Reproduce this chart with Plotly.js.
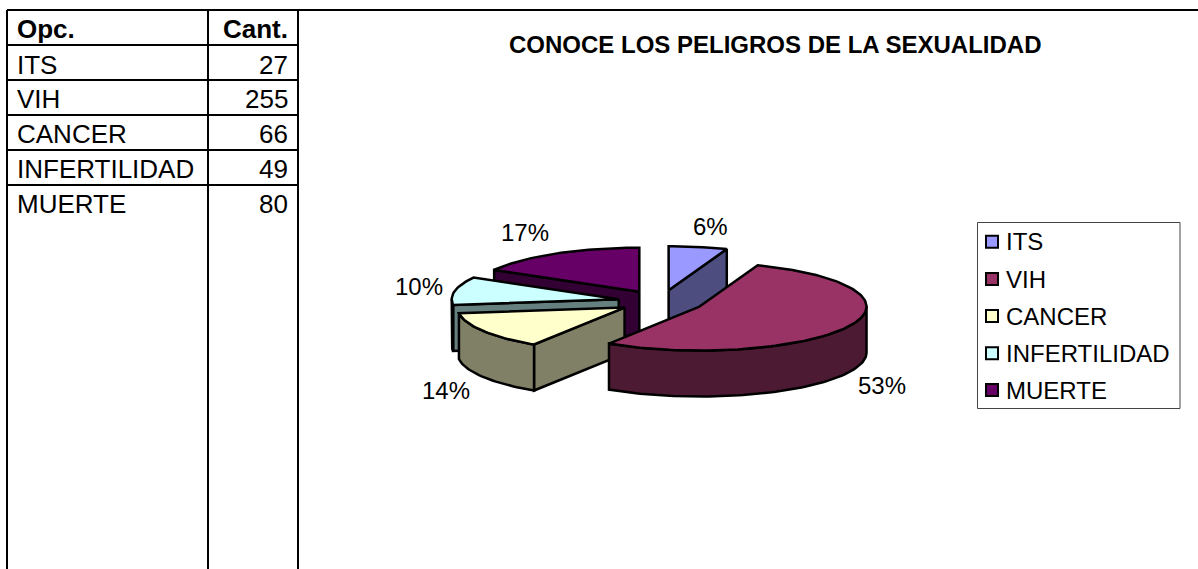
<!DOCTYPE html>
<html><head><meta charset="utf-8">
<script src="https://cdn.plot.ly/plotly-3.0.1.min.js"></script>
<style>html,body{margin:0;padding:0;background:#fff}#c{width:1198px;height:569px}</style>
</head><body><div id="c"></div>
<script>
// Data
const categories = ["ITS","VIH","CANCER","INFERTILIDAD","MUERTE"];
const values = [27,255,66,49,80];
const headerOption = "Opc.";
const headerCount = "Cant.";
const chartTitle = "CONOCE LOS PELIGROS DE LA SEXUALIDAD";

// Styles
const topColors  = ["#9999FF","#993366","#FFFFCC","#CCFFFF","#660066"];
const wallColors = ["#4D4D80","#4D1A33","#808066","#668080","#330033"];
const drawOrder  = [0,4,3,2,1];
const labelX = [710,882,446,419,525];
const labelY = [226,385,390,286,232];

// Pie geometry (pixels on the page-sized axes)
const CX = 661, CY = 301.5, RX = 167, RY = 44, DEPTH = 46, EXPLODE = 0.258;
const rad = d => d*Math.PI/180;
const total = values.reduce((a,b)=>a+b,0);
let acc = 0;
const slices = values.map(v => {
  const a0 = acc/total*360; acc += v; const a1 = acc/total*360;
  const m = (a0+a1)/2;
  return {a0, a1, ax: CX+EXPLODE*RX*Math.sin(rad(m)), ay: CY-EXPLODE*RY*Math.cos(rad(m))};
});
const rim = (s,a,dz=0) => [s.ax+RX*Math.sin(rad(a)), s.ay-RY*Math.cos(rad(a))+dz];
function arc(s,a,b,dz=0){
  const n = Math.max(2,Math.ceil(Math.abs(b-a)/1.5)), out=[];
  for(let i=0;i<=n;i++) out.push(rim(s,a+(b-a)*i/n,dz));
  return out;
}
function poly(pts,fill,name){
  const c = pts.concat([pts[0]]);
  return {type:"scatter",mode:"lines",x:c.map(p=>p[0]),y:c.map(p=>p[1]),fill:"toself",fillcolor:fill,
    line:{color:"#000",width:2.5,shape:"linear"},name,hoverinfo:"name",showlegend:false};
}
function cutFace(s,a,color,name){
  const r=rim(s,a), r2=rim(s,a,DEPTH);
  return poly([[s.ax,s.ay],r,r2,[s.ax,s.ay+DEPTH]],color,name);
}
const traces = [];
drawOrder.forEach(i=>{
  const s = slices[i], name = categories[i];
  if(Math.sin(rad(s.a1))>0) traces.push(cutFace(s,s.a1,wallColors[i],name));
  if(Math.sin(rad(s.a0))<-1e-9) traces.push(cutFace(s,s.a0,wallColors[i],name));
  const from=Math.max(s.a0,90), to=Math.min(s.a1,270);
  if(to>from) traces.push(poly(arc(s,from,to).concat(arc(s,to,from,DEPTH)),wallColors[i],name));
  traces.push(poly([[s.ax,s.ay]].concat(arc(s,s.a0,s.a1)),topColors[i],name));
});

// Legend swatches
const legendY = [241.7,279,316,353.3,390];
traces.push({type:"scatter",mode:"markers",x:categories.map(()=>992),y:legendY,
  marker:{symbol:"square",size:12,color:topColors,line:{color:"#000",width:2}},hoverinfo:"skip",showlegend:false});

const FONT = "Liberation Sans, Arial, sans-serif";
const ann = [];
const txt=(x,y,text,size,anchor,bold)=>ann.push({xref:"x",yref:"y",x,y,text:bold?"<b>"+text+"</b>":text,showarrow:false,
  xanchor:anchor,yanchor:"middle",font:{family:FONT,size,color:"#000"},borderpad:0,borderwidth:0});

// Table
const rowY = [65,99,134,169,204];
txt(17,29,headerOption,26,"left",true);
txt(288,29,headerCount,26,"right",true);
categories.forEach((c,i)=>{ txt(17,rowY[i],c,26,"left",false); txt(288,rowY[i],String(values[i]),26,"right",false); });

// Title, percent labels, legend labels
txt(775.5,44,chartTitle,24,"center",true);
values.forEach((v,i)=>txt(labelX[i],labelY[i],Math.round(v/total*100)+"%",24,"center",false));
categories.forEach((c,i)=>txt(1006,legendY[i],c,24,"left",false));

const ln=(x0,y0,x1,y1,w=2,c="#000")=>({type:"line",xref:"x",yref:"y",x0,y0,x1,y1,line:{color:c,width:w},layer:"below"});
const shapes=[
  ln(7,10,1198,10), ln(7,10,7,569), ln(208,10,208,569), ln(298,10,298,569),
  ln(7,45,298,45), ln(7,80,298,80), ln(7,115,298,115), ln(7,150,298,150), ln(7,185,298,185),
  {type:"rect",xref:"x",yref:"y",x0:977.5,y0:222.5,x1:1180,y1:408.5,line:{color:"#444",width:1},fillcolor:"#fff",layer:"below"}
];

Plotly.newPlot("c",traces,{
  width:1198,height:569,margin:{l:0,r:0,t:0,b:0},paper_bgcolor:"#fff",plot_bgcolor:"#fff",showlegend:false,
  xaxis:{range:[0,1198],visible:false,fixedrange:true},
  yaxis:{range:[569,0],visible:false,fixedrange:true},
  annotations:ann,shapes
},{displayModeBar:false,responsive:false});
</script></body></html>
